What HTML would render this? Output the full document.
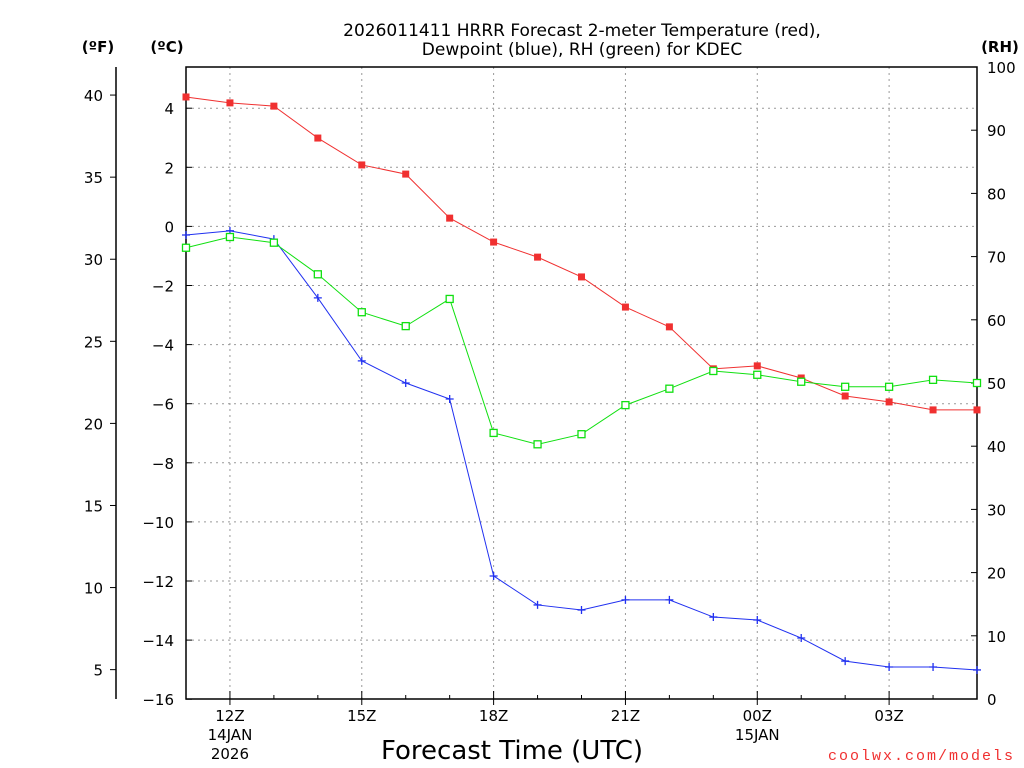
<!DOCTYPE html>
<html><head><meta charset="utf-8"><style>
body{margin:0;background:#fff;}
svg{display:block;font-family:"DejaVu Sans","Liberation Sans",sans-serif;}
</style></head><body>
<svg id="c" width="1024" height="768"></svg>
<script>
const hours=[0,1,2,3,4,5,6,7,8,9,10,11,12,13,14,15,16,17,18];
const tempC=[4.38,4.18,4.07,2.99,2.08,1.77,0.28,-0.53,-1.04,-1.71,-2.73,-3.40,-4.82,-4.72,-5.13,-5.74,-5.94,-6.21,-6.21];
const dewC=[-0.29,-0.15,-0.43,-2.42,-4.55,-5.30,-5.84,-11.83,-12.81,-12.98,-12.64,-12.64,-13.22,-13.32,-13.93,-14.71,-14.91,-14.91,-15.01];
const rh=[71.4,73.1,72.2,67.2,61.2,59.0,63.3,42.1,40.3,41.9,46.5,49.1,51.9,51.3,50.2,49.4,49.4,50.5,50.0];
const cTicks=[4,2,0,-2,-4,-6,-8,-10,-12,-14,-16];
const fTicks=[40,35,30,25,20,15,10,5];
const rhTicks=[0,10,20,30,40,50,60,70,80,90,100];
const xTickHours=[1,4,7,10,13,16];
const xTickLabels=["12Z","15Z","18Z","21Z","00Z","03Z"];

const L=186,R=977,T=67,B=699;
const x=h=>L+h*(R-L)/18;
const yC=c=>226.4-c*29.55;
const yF=f=>yC((f-32)*5/9);
const yR=r=>B-r*(B-T)/100;
const NS="http://www.w3.org/2000/svg";
const svg=document.getElementById('c');
function el(tag,attrs,parent){const e=document.createElementNS(NS,tag);for(const k in attrs)e.setAttribute(k,attrs[k]);(parent||svg).appendChild(e);return e;}
function txt(s,attrs,name){const e=el('text',attrs);e.textContent=s;


return e;}

txt("2026011411 HRRR Forecast 2-meter Temperature (red),",{x:582,y:36,'text-anchor':'middle','font-size':17},'chart-title-line1');
txt("Dewpoint (blue), RH (green) for KDEC",{x:582,y:55,'text-anchor':'middle','font-size':17},'chart-title-line2');
txt("(ºF)",{x:98,y:52,'text-anchor':'middle','font-size':15,'font-weight':'bold'},'f-axis-title');
txt("(ºC)",{x:167,y:52,'text-anchor':'middle','font-size':15,'font-weight':'bold'},'c-axis-title');
txt("(RH)",{x:1000,y:52,'text-anchor':'middle','font-size':15,'font-weight':'bold'},'rh-axis-title');

cTicks.forEach(c=>{if(c>-16){const g=el('line',{x1:L,x2:R,y1:yC(c),y2:yC(c),stroke:'#999','stroke-dasharray':'2,4'});

}});
xTickHours.forEach(h=>{const g=el('line',{x1:x(h),x2:x(h),y1:T,y2:B,stroke:'#999','stroke-dasharray':'2,4'});

});

const fr=el('rect',{x:L,y:T,width:R-L,height:B-T,fill:'none',stroke:'#000','stroke-width':1.5});


el('line',{x1:116,x2:116,y1:T,y2:B,stroke:'#000','stroke-width':1.5});

cTicks.forEach(c=>{el('line',{x1:L,x2:L+6,y1:yC(c),y2:yC(c),stroke:'#000'});
txt((c<0?"\u2212":"")+Math.abs(c),{x:174,y:yC(c)+6,'text-anchor':'end','font-size':15},'c-tick-label');});
fTicks.forEach(f=>{el('line',{x1:116,x2:110,y1:yF(f),y2:yF(f),stroke:'#000'});
txt(String(f),{x:103,y:yF(f)+6,'text-anchor':'end','font-size':15},'f-tick-label');});
rhTicks.forEach(r=>{el('line',{x1:R,x2:R-6,y1:yR(r),y2:yR(r),stroke:'#000'});
txt(String(r),{x:987,y:yR(r)+6,'font-size':15},'rh-tick-label');});
hours.forEach(h=>{el('line',{x1:x(h),x2:x(h),y1:B,y2:B-(xTickHours.includes(h)?8:4),stroke:'#000'});});
xTickHours.forEach((h,i)=>{el('line',{x1:x(h),x2:x(h),y1:B,y2:B+6,stroke:'#000'});
txt(xTickLabels[i],{x:x(h),y:721,'text-anchor':'middle','font-size':15},'x-tick-label');});
txt("14JAN",{x:x(1),y:740,'text-anchor':'middle','font-size':15},'date-label');
txt("2026",{x:x(1),y:759,'text-anchor':'middle','font-size':15},'year-label');
txt("15JAN",{x:x(13),y:740,'text-anchor':'middle','font-size':15},'date-label-2');
txt("Forecast Time (UTC)",{x:512,y:759,'text-anchor':'middle','font-size':26},'x-axis-title');
txt("coolwx.com/models",{x:1015,y:760,'text-anchor':'end','font-size':15,fill:'#f03030','font-family':'"Liberation Mono",monospace','letter-spacing':'2'},'credit');

function line(vals,yf,color,name){
  const p=el('polyline',{points:vals.map((v,i)=>x(hours[i])+','+yf(v)).join(' '),fill:'none',stroke:color,'stroke-width':1});
  
  
}
line(tempC,yC,'#f03030','temperature-line');
line(dewC,yC,'#2030f0','dewpoint-line');
line(rh,yR,'#10e010','rh-line');
tempC.forEach((v,i)=>{const m=el('rect',{x:x(hours[i])-3.5,y:yC(v)-3.5,width:7,height:7,fill:'#f03030'});

});
dewC.forEach((v,i)=>{const cx=x(hours[i]),cy=yC(v);
const m=el('path',{d:`M${cx-4},${cy}H${cx+4}M${cx},${cy-4}V${cy+4}`,stroke:'#2030f0','stroke-width':1.3});

});
rh.forEach((v,i)=>{const m=el('rect',{x:x(hours[i])-3.5,y:yR(v)-3.5,width:7,height:7,fill:'#fff',stroke:'#10e010','stroke-width':1.3});

});
</script>
</body></html>
